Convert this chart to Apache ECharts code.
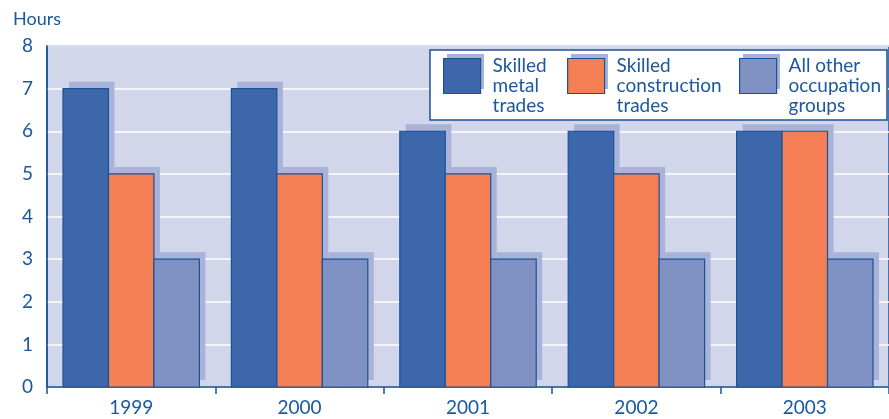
<!DOCTYPE html>
<html>
<head>
<meta charset="utf-8">
<script src="https://cdn.jsdelivr.net/npm/echarts@6/dist/echarts.min.js"></script>
<style>
  html, body { margin: 0; padding: 0; background: #fff; }
  #chart { width: 889px; height: 419px; }
</style>
</head>
<body>
<div id="chart"></div>
<script>
// data
var years = ['1999', '2000', '2001', '2002', '2003']
var metalTrades = [7, 7, 6, 6, 6]
var constructionTrades = [5, 5, 5, 5, 6]
var otherGroups = [3, 3, 3, 3, 3]
var seriesNames = ['Skilled\nmetal\ntrades', 'Skilled\nconstruction\ntrades', 'All other\noccupation\ngroups']

var ink = '#1a58a0'
var edge = '#1b5296'
var shade = '#a9b2d9'
var colors = ['#3c67ab', '#f47f54', '#8092c4']
var font = 'Lato'
var legendLeft = [443, 567, 739]

// bar + offset shadow, placed from the category axis and value axis
function barSeries (idx, values) {
  return {
    name: seriesNames[idx],
    type: 'custom',
    itemStyle: { color: colors[idx] },
    encode: { x: 0, y: 1 },
    data: values.map(function (v, i) { return [i, v] }),
    renderItem: function (params, api) {
      var band = api.size([1, 0])[0]
      var w = band * 0.81 / 3
      var base = api.coord([api.value(0), 0])
      var top = api.coord([api.value(0), api.value(1)])
      var x0 = base[0] - 1.5 * w + idx * w
      var h = base[1] - top[1]
      return {
        type: 'group',
        children: [
          { type: 'rect', shape: { x: x0 + 6, y: top[1] - 7, width: w, height: h }, style: { fill: shade } },
          { type: 'rect', shape: { x: x0, y: top[1], width: w, height: h }, style: { fill: colors[idx], stroke: edge, lineWidth: 1.2 } }
        ]
      }
    }
  }
}

function legendAt (idx) {
  return {
    left: legendLeft[idx],
    top: 36,
    padding: 0,
    icon: 'rect',
    itemWidth: 37,
    itemHeight: 35,
    selectedMode: false,
    data: [seriesNames[idx]],
    formatter: function (name) { return '\n' + name },
    itemStyle: { color: colors[idx], borderColor: edge, borderWidth: 1.2 },
    textStyle: { color: ink, fontFamily: font, fontSize: 19, lineHeight: 20, padding: [0, 0, 0, 7] }
  }
}

var chart = echarts.init(document.getElementById('chart'))
var option = {
  animation: false,
  title: {
    text: 'Hours',
    left: 8,
    top: 5,
    textStyle: { color: ink, fontFamily: font, fontSize: 18, fontWeight: 'normal' }
  },
  grid: {
    left: 47,
    right: -3,
    top: 46,
    bottom: 32,
    show: true,
    backgroundColor: '#d2d6ea',
    borderColor: edge,
    borderWidth: 1.5
  },
  graphic: [
    { type: 'rect', z: 3, shape: { x: 430, y: 50, width: 457, height: 70 }, style: { fill: '#fff', stroke: edge, lineWidth: 1.5 } },
    { type: 'rect', z: 3, shape: { x: legendLeft[0] + 4, y: 54, width: 37, height: 35 }, style: { fill: shade } },
    { type: 'rect', z: 3, shape: { x: legendLeft[1] + 4, y: 54, width: 37, height: 35 }, style: { fill: shade } },
    { type: 'rect', z: 3, shape: { x: legendLeft[2] + 4, y: 54, width: 37, height: 35 }, style: { fill: shade } }
  ],
  legend: [legendAt(0), legendAt(1), legendAt(2)],
  xAxis: {
    type: 'category',
    data: years,
    axisLine: { lineStyle: { color: edge, width: 1.5 } },
    axisTick: { show: true, length: 7, lineStyle: { color: edge, width: 1.5 } },
    axisLabel: { color: ink, fontFamily: font, fontSize: 19, margin: 11 },
    splitLine: { show: false }
  },
  yAxis: {
    type: 'value',
    min: 0,
    max: 8,
    interval: 1,
    axisLine: { show: true, lineStyle: { color: edge, width: 1.5 } },
    axisTick: { show: false },
    axisLabel: { color: ink, fontFamily: font, fontSize: 19, margin: 14 },
    splitLine: { lineStyle: { color: '#ffffff', width: 1.5 } }
  },
  series: [
    barSeries(0, metalTrades),
    barSeries(1, constructionTrades),
    barSeries(2, otherGroups)
  ]
}
chart.setOption(option, true)
</script>
</body>
</html>
